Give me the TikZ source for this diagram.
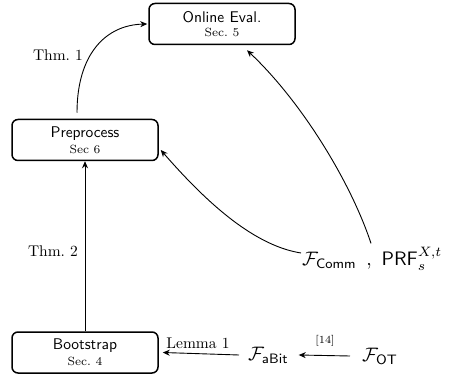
\documentclass[tikz,border=0pt]{standalone}
\usepackage{graphicx}
\usetikzlibrary{arrows.meta}
\newcommand{\zz}[1]{\scalebox{1.55}{#1}}
\newcommand{\mm}[1]{\scalebox{1.95}{#1}}
\newcommand{\secline}[1]{\scalebox{1.7}{\scriptsize #1}}
\tikzset{
 box/.style={draw, line width=1.5pt, rounded corners=6pt, minimum width=146pt, minimum height=41pt, inner sep=0pt, align=center},
 conn/.style={line width=0.9pt, -{Stealth[length=7pt,width=6pt]}},
 lbl/.style={inner sep=0pt},
}
\begin{document}
\begin{tikzpicture}[x=1pt,y=-1pt]
\useasboundingbox (0,0) rectangle (450,374);
\node[box] (online) at (222,24) {\shortstack{\zz{\sffamily Online Eval.}\\[1.5pt]\secline{Sec.~5}}};
\node[box] (pre) at (85,140) {\shortstack{\zz{\sffamily Preprocess}\\[1.5pt]\secline{Sec~6}}};
\node[box] (boot) at (85,352.5) {\shortstack{\zz{\sffamily Bootstrap}\\[1.5pt]\secline{Sec.~4}}};
\node[lbl,anchor=west] (fabit) at (248,355) {\mm{$\mathcal{F}_{\mathsf{aBit}}$}};
\node[lbl,anchor=west] (fot) at (362,356) {\mm{$\mathcal{F}_{\mathsf{OT}}$}};
\node[lbl,anchor=west] (inputs) at (302,259) {\mm{$\mathcal{F}_{\mathsf{Comm}}$ \,,\, $\mathsf{PRF}_s^{X,t}$}};
\node[lbl] (thm1) at (58,55) {\zz{Thm.~1}};
\node[lbl] (thm2) at (53,251) {\zz{Thm.~2}};
\node[lbl] (lem1) at (198,343) {\zz{Lemma~1}};
\node[lbl] (ref14) at (325,341) {\zz{\scriptsize [14]}};
\draw[conn] ([xshift=-8pt,yshift=6pt]pre.north) .. controls (77,55) and (105,25) .. ([xshift=-1pt]online.west);
\draw[conn] (boot.north) -- (pre.south);
\draw[conn] ([xshift=-9pt]fabit.west) -- ([xshift=4pt]boot.east);
\draw[conn] ([xshift=-12pt]fot.west) -- ([xshift=10pt]fabit.east);
\draw[conn] ([xshift=-1pt,yshift=6pt]inputs.west) .. controls (250,245) and (200,195) .. ([xshift=2pt,yshift=-10pt]pre.east);
\draw[conn] ([xshift=69pt,yshift=4pt]inputs.north west) .. controls (350,180) and (300,100) .. ([xshift=25pt,yshift=-5pt]online.south);
\end{tikzpicture}
\end{document}
